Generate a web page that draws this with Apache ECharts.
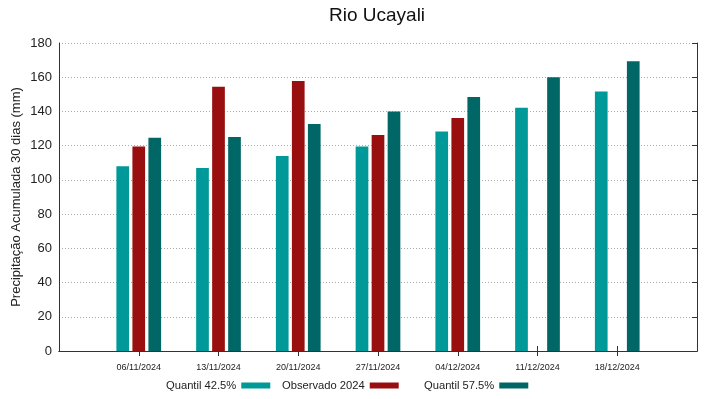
<!DOCTYPE html>
<html>
<head>
<meta charset="utf-8">
<script src="https://cdn.jsdelivr.net/npm/echarts@6/dist/echarts.min.js"></script>
<style>
  html, body { margin: 0; padding: 0; background: #fff; }
  #chart { width: 719px; height: 399px; }
</style>
</head>
<body>
<div id="chart"></div>
<script>
// data
var dates = ['', '06/11/2024', '13/11/2024', '20/11/2024', '27/11/2024', '04/12/2024', '11/12/2024', '18/12/2024', ''];
var quantil425 = [null, 108, 107, 114, 119.5, 128.3, 142.2, 151.6, null];
var observado2024 = [null, 119.5, 154.5, 157.8, 126.3, 136.1, null, null, null];
var quantil575 = [null, 124.6, 125, 132.6, 140, 148.4, 160, 169.3, null];
var yTicks = [0, 20, 40, 60, 80, 100, 120, 140, 160, 180];

var chart = echarts.init(document.getElementById('chart'));
var font = 'Liberation Sans, Arial, sans-serif';

function legendFor(name, left) {
  return {
    data: [name],
    left: left,
    top: 380,
    padding: 0,
    align: 'right',
    itemWidth: 29,
    itemHeight: 6,
    icon: 'rect',
    textStyle: { fontFamily: font, fontSize: 11.2, color: '#222' }
  };
}

function innerTicks(i) { return i > 0 && i < dates.length - 1; }

var option = {
  backgroundColor: '#fff',
  animation: false,
  title: {
    text: 'Rio Ucayali',
    left: 329,
    top: 6,
    padding: 0,
    textStyle: { fontFamily: font, fontSize: 19, fontWeight: 'normal', color: '#111' }
  },
  legend: [
    legendFor('Quantil 42.5%', 166),
    legendFor('Observado 2024', 282),
    legendFor('Quantil 57.5%', 424)
  ],
  grid: { left: 59, right: 22, top: 43, bottom: 48, outerBoundsMode: 'none' },
  xAxis: [{
    type: 'category',
    data: dates,
    boundaryGap: false,
    axisLine: { lineStyle: { color: '#333', width: 1 } },
    axisTick: { show: true, inside: true, length: 5, interval: innerTicks, lineStyle: { color: '#333' } },
    axisLabel: { fontFamily: font, fontSize: 9, color: '#222', margin: 12, interval: 0 },
    splitLine: { show: false }
  }, {
    type: 'category',
    data: dates,
    position: 'top',
    boundaryGap: false,
    axisLine: { show: true, lineStyle: { color: '#333', width: 1 } },
    axisTick: { show: true, inside: true, length: 5, interval: innerTicks, lineStyle: { color: '#333' } },
    axisLabel: { show: false }
  }],
  yAxis: [{
    type: 'value',
    min: yTicks[0],
    max: yTicks[yTicks.length - 1],
    interval: 20,
    name: 'Precipitação Acumulada 30 dias (mm)',
    nameLocation: 'middle',
    nameGap: 36,
    nameMoveOverlap: false,
    nameTextStyle: { fontFamily: font, fontSize: 13, color: '#222' },
    axisLine: { show: true, lineStyle: { color: '#333' } },
    axisTick: { show: false },
    axisLabel: { fontFamily: font, fontSize: 13, color: '#222', margin: 7 },
    splitLine: { show: true, lineStyle: { color: '#aaa', type: [1, 2], width: 1 } }
  }, {
    type: 'value',
    min: yTicks[0],
    max: yTicks[yTicks.length - 1],
    interval: 20,
    position: 'right',
    axisLine: { show: true, lineStyle: { color: '#333' } },
    axisTick: { show: true, inside: true, length: 5, lineStyle: { color: '#333' } },
    axisLabel: { show: false },
    splitLine: { show: false }
  }],
  series: [{
    name: 'Quantil 42.5%',
    type: 'bar',
    data: quantil425,
    barWidth: 12.7,
    barGap: '26%',
    itemStyle: { color: '#009999' }
  }, {
    name: 'Observado 2024',
    type: 'bar',
    data: observado2024,
    barWidth: 12.7,
    barGap: '26%',
    itemStyle: { color: '#990f0f' }
  }, {
    name: 'Quantil 57.5%',
    type: 'bar',
    data: quantil575,
    barWidth: 12.7,
    barGap: '26%',
    itemStyle: { color: '#006666' }
  }]
};

chart.setOption(option);
</script>
</body>
</html>
